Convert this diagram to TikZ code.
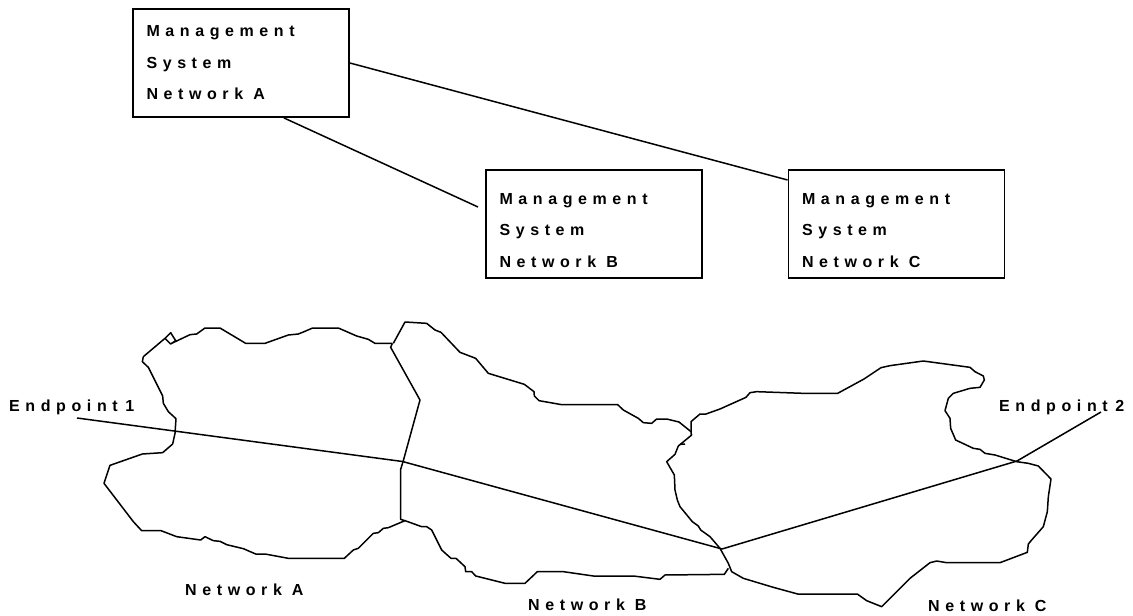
\documentclass[tikz,border=0pt]{standalone}
\usepackage{fontspec}
\newfontfamily\labelfont[LetterSpace=35]{Liberation Sans}
\usetikzlibrary{positioning}

\tikzset{
    mgmtbox/.style={rectangle, draw, line width=1.8pt, minimum width=216pt, minimum height=108pt, inner xsep=13.5pt, inner ysep=0pt, text width=189pt, align=flush left, font=\labelfont\bfseries\fontsize{16}{31.5}\selectfont},
    netlabel/.style={anchor=base west, inner sep=0pt, font=\labelfont\bfseries\fontsize{16}{19}\selectfont},
    border/.style={line width=1.5pt, line join=round},
    link/.style={line width=1.5pt, line join=round}
}

\begin{document}
\begin{tikzpicture}[x=1pt, y=-1pt]
    \useasboundingbox (0,0) rectangle (1133,616);

    % Management systems
    \node[mgmtbox] (msa) at (241,63) {Management\\System\\Network A};
    \node[mgmtbox] (msb) at (594,224) {\rule{0pt}{24pt}Management\\System\\Network B};
    \node[mgmtbox] (msc) at (896.5,224) {\rule{0pt}{24pt}Management\\System\\Network C};

    % Links between the systems
    \coordinate (msbfree) at (478,207);
    \draw[link] (msa.-52) -- (msbfree);
    \draw[link] (msa.east) -- (msc.158.7);

    % Network A outline
    \begin{scope}[shift={(80,310)}, scale=0.33333]
        \draw[border] (937,100) -- (885,100) -- (865,88) -- (830,78) -- (775,54) -- (698,54) -- (670,66) -- (655,72) -- (625,75) -- (555,100) -- (497,100) -- (420,54) -- (375,54) -- (350,72) -- (330,74) -- (275,100) -- (287,92) -- (272,68) -- (255,85) -- (272,102) -- (275,100);
        \draw[border] (255,85) -- (190,140) -- (187,155) -- (205,172) -- (248,258) -- (250,280) -- (265,305) -- (288,326) -- (285,370) -- (278,402) -- (248,428) -- (187,432) -- (90,466) -- (72,520) -- (160,635) -- (185,662) -- (243,662) -- (290,680) -- (362,690) -- (375,680) -- (400,692) -- (420,694) -- (440,704) -- (490,716) -- (527,732) -- (555,732) -- (625,745) -- (793,745) -- (820,720) -- (835,715) -- (880,670) -- (895,668) -- (910,655) -- (925,653) -- (975,632) -- (962,628) -- (962,478) -- (970,452) -- (1020,270) -- (932,112) -- (937,100);
    \end{scope}

    % Network B outline
    \begin{scope}[shift={(380,310)}, scale=0.33333]
        \draw[border] (40,100) -- (75,36) -- (140,40) -- (165,60) -- (183,67) -- (240,127) -- (287,145) -- (325,190) -- (433,223) -- (462,245) -- (463,258) -- (477,272) -- (545,284) -- (713,284) -- (730,300) -- (775,325) -- (790,338) -- (815,340) -- (830,327) -- (860,327) -- (897,336) -- (933,365);
        \draw[border] (915,402) -- (900,403);
        \draw[border] (1045,775) -- (1033,793) -- (855,795) -- (840,808) -- (760,798) -- (640,798) -- (550,785) -- (472,785) -- (435,820) -- (375,820) -- (287,798) -- (275,785) -- (257,785) -- (255,770) -- (228,745) -- (213,745) -- (185,720) -- (155,660) -- (140,650) -- (125,650) -- (75,632);
    \end{scope}

    % Network C outline
    \begin{scope}[shift={(660,340)}, scale=0.33333]
        \draw[border] (93,280) -- (93,245) -- (120,222) -- (138,222) -- (180,207) -- (258,172) -- (270,158) -- (290,155) -- (430,160) -- (533,160) -- (612,117) -- (663,83) -- (690,77) -- (790,63) -- (930,82) -- (945,95) -- (970,108) -- (973,120) -- (960,142) -- (930,145) -- (880,160) -- (865,175) -- (855,212) -- (870,235) -- (872,265) -- (887,300) -- (940,325) -- (960,328) -- (975,340) -- (1005,345) -- (1070,365) -- (1105,370) -- (1135,378) -- (1173,417) -- (1165,470) -- (1162,515) -- (1150,560) -- (1115,600) -- (1105,612) -- (1102,637) -- (1020,668) -- (860,668) -- (830,663) -- (810,668) -- (750,715) -- (665,800) -- (620,782) -- (592,762) -- (413,762) -- (340,742) -- (250,715) -- (215,695) -- (205,670) -- (180,625) -- (150,590) -- (122,570) -- (115,558) -- (97,545) -- (60,500) -- (52,480) -- (45,450) -- (43,405) -- (20,365) -- (45,343) -- (55,318) -- (95,285) -- (93,280);
    \end{scope}

    % Path between the endpoints
    \coordinate (ep1) at (77,418);
    \coordinate (crossab) at (402.5,461.5);
    \coordinate (crossbc) at (722,549);
    \coordinate (crossc) at (1017,461);
    \coordinate (ep2) at (1101,412);
    \draw[link] (ep1) -- (crossab) -- (crossbc) -- (crossc) -- (ep2);

    % Labels
    \node[netlabel] (labep1) at (9,411) {Endpoint\hspace{-2.5pt} 1};
    \node[netlabel] (labep2) at (999,411) {Endpoint\hspace{-2.5pt} 2};
    \node[netlabel] (labneta) at (185,595) {Network A};
    \node[netlabel] (labnetb) at (528,610) {Network B};
    \node[netlabel] (labnetc) at (928,611) {Network C};
\end{tikzpicture}
\end{document}
